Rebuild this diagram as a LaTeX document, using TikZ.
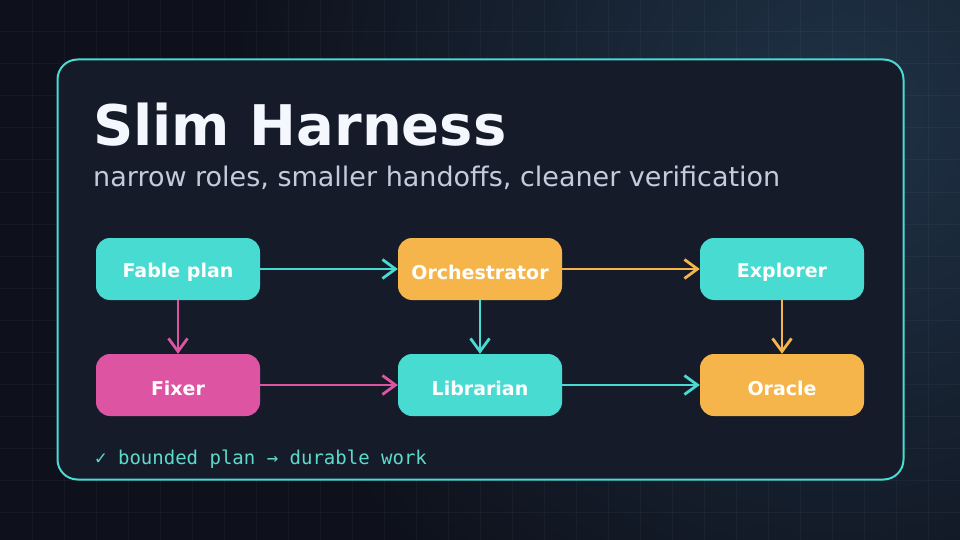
\documentclass[tikz,border=0pt]{standalone}
\usepackage{fontspec}
\setmainfont{DejaVu Sans}
\newfontfamily\monofont{DejaVu Sans Mono}
\usetikzlibrary{arrows.meta}

\definecolor{bgc}{HTML}{0E111B}
\definecolor{glowc}{HTML}{1F3246}
\definecolor{cardc}{HTML}{161B2A}
\definecolor{cyanc}{HTML}{48DBD2}
\definecolor{orangec}{HTML}{F5B54A}
\definecolor{pinkc}{HTML}{DD54A2}
\definecolor{titlec}{HTML}{F5F7FF}
\definecolor{subc}{HTML}{C2CCDC}
\definecolor{footc}{HTML}{5EDACB}

\begin{document}
\begin{tikzpicture}[x=1pt,y=-1pt,
  box/.style={rounded corners=14pt, minimum width=164pt, minimum height=62pt,
    inner sep=0pt, text=white, font=\bfseries\fontsize{19}{21}\selectfont,
    text height=21pt, text depth=0pt},
  conn/.style={line width=2.8pt, -{Straight Barb[length=13pt,width=19pt]}},
  gridline/.style={white, opacity=0.035, line width=1pt},
  txt/.style={anchor=base west, inner sep=0pt}]
\useasboundingbox (0,0) rectangle (960,540);
% background and glow
\fill[bgc] (0,0) rectangle (960,540);
\begin{scope}
  \clip (0,0) rectangle (960,540);
  \shade[inner color=glowc, outer color=bgc] (840,115) circle (610pt);
\end{scope}
% grid
\foreach \i in {32,64,...,960} \draw[gridline] (\i,0) -- (\i,540);
\foreach \j in {32,64,...,540} \draw[gridline] (0,\j) -- (960,\j);
% card
\draw[cyanc, fill=cardc, line width=2pt, rounded corners=20pt] (57.5,59.5) rectangle (903.5,479.5);
% texts
\node[txt, font=\bfseries\fontsize{56}{60}\selectfont, text=titlec] (title) at (93,146) {Slim Harness};
\node[txt, font=\fontsize{27}{30}\selectfont, text=subc] (subtitle) at (93,186) {narrow roles, smaller handoffs, cleaner verification};
\node[txt, font=\monofont\fontsize{19}{22}\selectfont, text=footc] (footer) at (95,464) {✓ bounded plan → durable work};
% nodes
\node[box, fill=cyanc] (fable) at (178,269) {\raisebox{2pt}{Fable plan}};
\node[box, fill=orangec] (orch) at (480,269) {Orchestrator};
\node[box, fill=cyanc] (expl) at (782,269) {\raisebox{2pt}{Explorer}};
\node[box, fill=pinkc] (fixer) at (178,385) {Fixer};
\node[box, fill=cyanc] (lib) at (480,385) {Librarian};
\node[box, fill=orangec] (oracle) at (782,385) {Oracle};
% connectors
\draw[conn, cyanc] (fable) -- (orch);
\draw[conn, orangec] (orch) -- (expl);
\draw[conn, pinkc] (fable) -- (fixer);
\draw[conn, pinkc] (fixer) -- (lib);
\draw[conn, cyanc] (orch) -- (lib);
\draw[conn, cyanc] (lib) -- (oracle);
\draw[conn, orangec] (expl) -- (oracle);
\end{tikzpicture}
\end{document}
